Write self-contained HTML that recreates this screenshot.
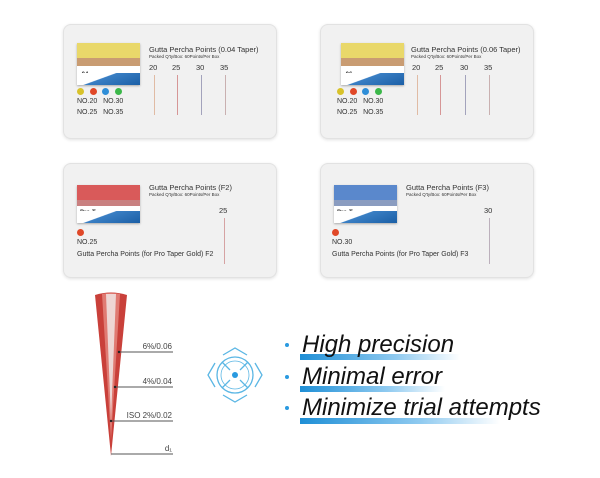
<!DOCTYPE html>
<html><head><style>
body{margin:0;width:600px;height:478px;background:#fff;font-family:"Liberation Sans",sans-serif;position:relative;overflow:hidden}
.card{position:absolute;width:212px;height:113px;background:#f1f1f1;border:1px solid #e2e2e2;border-radius:8px;box-shadow:0 1px 3px rgba(0,0,0,.12)}
.box{position:absolute;left:13px;top:18px;width:63px;height:42px;background:#fff;box-shadow:0 1px 2px rgba(0,0,0,.3)}
.band{position:absolute;left:0;top:0;width:100%;height:15px}
.wave{position:absolute;right:0;bottom:0;width:100%;height:12px;background:linear-gradient(160deg,#fff 40%,#3a7fc4 42%,#1b5fa6)}
.t{position:absolute;font-size:7.5px;color:#333;white-space:nowrap}
.s{position:absolute;font-size:4.5px;color:#333;white-space:nowrap}
.n{position:absolute;font-size:7.5px;color:#333}
.nd{position:absolute;width:1px;height:40px;opacity:.75}
.dot{position:absolute;width:7px;height:7px;border-radius:50%}
.lbl{position:absolute;font-size:7px;color:#333}
.b{position:absolute;left:302px;font-size:24px;font-style:italic;color:#111}
.bar{position:absolute;left:300px;height:6px;background:linear-gradient(90deg,#1f8fd6,#8fcaf0 60%,rgba(255,255,255,0))}
.bd{position:absolute;left:285px;width:4px;height:4px;border-radius:50%;background:#2a9ae0}
</style></head><body>

<div class="card" style="left:63px;top:24px">
 <div class="box"><div class="band" style="background:#e9d86a"></div><div class="band" style="top:15px;height:8px;background:#c99c72"></div><div class="s" style="left:3px;top:29px;font-size:6px;font-weight:bold">.04</div><div class="wave"></div></div>
 <div class="t" style="left:85px;top:20px">Gutta Percha Points (0.04 Taper)</div>
 <div class="s" style="left:85px;top:29px">Packed Q'ty/Box: 60Points/Per Box</div>
 <div class="n" style="left:85px;top:38px">20</div><div class="n" style="left:108px;top:38px">25</div><div class="n" style="left:132px;top:38px">30</div><div class="n" style="left:156px;top:38px">35</div>
 <div class="nd" style="left:90px;top:50px;background:#d9a88a"></div><div class="nd" style="left:113px;top:50px;background:#c77"></div><div class="nd" style="left:137px;top:50px;background:#88a"></div><div class="nd" style="left:161px;top:50px;background:#b99"></div>
 <div class="dot" style="left:13px;top:63px;background:#d8c22a"></div><div class="dot" style="left:26px;top:63px;background:#e04828"></div><div class="dot" style="left:38px;top:63px;background:#2f8ed8"></div><div class="dot" style="left:51px;top:63px;background:#3cb84a"></div>
 <div class="lbl" style="left:13px;top:73px">NO.20&nbsp;&nbsp;&nbsp;NO.30</div><div class="lbl" style="left:13px;top:84px">NO.25&nbsp;&nbsp;&nbsp;NO.35</div>
</div>

<div class="card" style="left:320px;top:24px">
 <div class="box" style="left:20px"><div class="band" style="background:#e9d86a"></div><div class="band" style="top:15px;height:8px;background:#c99c72"></div><div class="s" style="left:3px;top:29px;font-size:6px;font-weight:bold">.06</div><div class="wave"></div></div>
 <div class="t" style="left:90px;top:20px">Gutta Percha Points (0.06 Taper)</div>
 <div class="s" style="left:90px;top:29px">Packed Q'ty/Box: 60Points/Per Box</div>
 <div class="n" style="left:91px;top:38px">20</div><div class="n" style="left:114px;top:38px">25</div><div class="n" style="left:139px;top:38px">30</div><div class="n" style="left:163px;top:38px">35</div>
 <div class="nd" style="left:96px;top:50px;background:#d9a88a"></div><div class="nd" style="left:119px;top:50px;background:#c77"></div><div class="nd" style="left:144px;top:50px;background:#88a"></div><div class="nd" style="left:168px;top:50px;background:#b99"></div>
 <div class="dot" style="left:16px;top:63px;background:#d8c22a"></div><div class="dot" style="left:29px;top:63px;background:#e04828"></div><div class="dot" style="left:41px;top:63px;background:#2f8ed8"></div><div class="dot" style="left:54px;top:63px;background:#3cb84a"></div>
 <div class="lbl" style="left:16px;top:73px">NO.20&nbsp;&nbsp;&nbsp;NO.30</div><div class="lbl" style="left:16px;top:84px">NO.25&nbsp;&nbsp;&nbsp;NO.35</div>
</div>

<div class="card" style="left:63px;top:163px">
 <div class="box" style="top:21px;height:38px"><div class="band" style="background:#d95a5a"></div><div class="band" style="top:15px;height:6px;background:#c98080"></div><div class="s" style="left:3px;top:25px;font-size:6px;font-weight:bold">Pro-T</div><div class="wave"></div></div>
 <div class="t" style="left:85px;top:19px">Gutta Percha Points (F2)</div>
 <div class="s" style="left:85px;top:28px">Packed Q'ty/Box: 60Points/Per Box</div>
 <div class="n" style="left:155px;top:42px">25</div>
 <div class="nd" style="left:160px;top:54px;height:46px;background:#c88"></div>
 <div class="dot" style="left:13px;top:65px;background:#e04828"></div>
 <div class="lbl" style="left:13px;top:75px">NO.25</div>
 <div class="lbl" style="left:13px;top:87px">Gutta Percha Points (for Pro Taper Gold) F2</div>
</div>

<div class="card" style="left:320px;top:163px">
 <div class="box" style="top:21px;height:38px"><div class="band" style="background:#5a88cc"></div><div class="band" style="top:15px;height:6px;background:#8a9cc0"></div><div class="s" style="left:3px;top:25px;font-size:6px;font-weight:bold">Pro-T</div><div class="wave"></div></div>
 <div class="t" style="left:85px;top:19px">Gutta Percha Points (F3)</div>
 <div class="s" style="left:85px;top:28px">Packed Q'ty/Box: 60Points/Per Box</div>
 <div class="n" style="left:163px;top:42px">30</div>
 <div class="nd" style="left:168px;top:54px;height:46px;background:#a9a"></div>
 <div class="dot" style="left:11px;top:65px;background:#e04828"></div>
 <div class="lbl" style="left:11px;top:75px">NO.30</div>
 <div class="lbl" style="left:11px;top:87px">Gutta Percha Points (for Pro Taper Gold) F3</div>
</div>

<svg style="position:absolute;left:0;top:0" width="600" height="478">
 <path d="M95 295 Q111 290 127 295 L111 456 Z" fill="#c9403a"/>
 <path d="M102 294 Q111 292 120 294 L111 440 Z" fill="#e07a72"/>
 <path d="M106 294 L116 294 L111 420 Z" fill="#eed6d4"/>
 <g stroke="#555" stroke-width="1">
  <line x1="119" y1="352" x2="173" y2="352"/><line x1="115" y1="387" x2="173" y2="387"/><line x1="111" y1="421" x2="173" y2="421"/><line x1="111" y1="454" x2="173" y2="454"/>
 </g>
 <g fill="#222"><circle cx="119" cy="352" r="1.2"/><circle cx="115" cy="387" r="1.2"/><circle cx="111" cy="421" r="1.2"/></g>
 <g font-size="8" fill="#444" text-anchor="end" font-family="Liberation Sans">
  <text x="172" y="349">6%/0.06</text><text x="172" y="384">4%/0.04</text><text x="172" y="418">ISO 2%/0.02</text><text x="172" y="451">d₁</text>
 </g>
 <g fill="none" stroke="#5ab6e4" stroke-width="1.3">
  <circle cx="235" cy="375" r="18"/><circle cx="235" cy="375" r="14" stroke-width="0.8"/>
  <path d="M222 362 L230 370 M248 362 L240 370 M222 388 L230 380 M248 388 L240 380"/>
  <path d="M223 355 L235 348 L247 355 M223 395 L235 402 L247 395 M215 363 L208 375 L215 387 M255 363 L262 375 L255 387"/>
 </g>
 <circle cx="235" cy="375" r="3" fill="#2a9ae0"/>
</svg>

<div class="bar" style="top:354px;width:160px"></div>
<div class="bar" style="top:386px;width:145px"></div>
<div class="bar" style="top:418px;width:200px"></div>
<div class="bd" style="top:343px"></div><div class="bd" style="top:375px"></div><div class="bd" style="top:406px"></div>
<div class="b" style="top:331px">High precision</div>
<div class="b" style="top:363px">Minimal error</div>
<div class="b" style="top:394px">Minimize trial attempts</div>
</body></html>
